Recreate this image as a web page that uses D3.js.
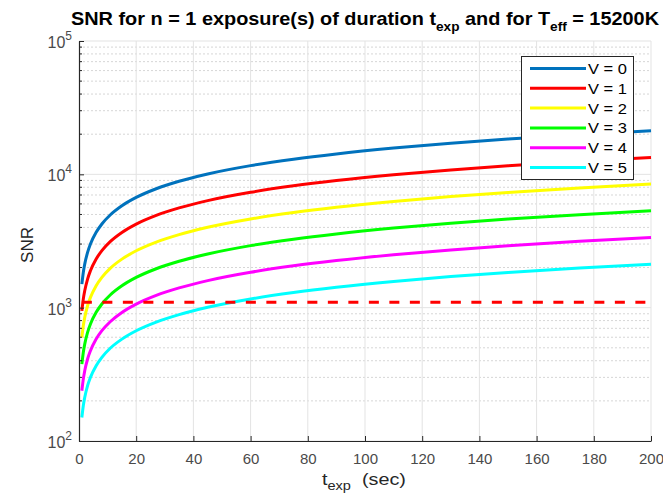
<!DOCTYPE html>
<html>
<head>
<meta charset="utf-8">
<script src="https://cdn.jsdelivr.net/npm/d3@7"></script>
<style>
  html, body { margin: 0; padding: 0; background: #fff; }
  svg { display: block; font-family: "Liberation Sans", Arial, Helvetica, sans-serif; }
</style>
</head>
<body>
<svg id="chart" width="663" height="496"></svg>
<script>
// ---- data ----
const tExp = [1, 1.5, 2, 3, 4, 6, 8, 11, 15, 20, 27, 35, 45, 60, 75, 90, 110, 130, 150, 175, 200];
const snrV0 = [1500, 1837, 2121, 2598, 3000, 3674, 4243, 4975, 5809, 6708, 7794, 8874, 10062, 11619, 12990, 14230, 15732, 17103, 18371, 19843, 21213];
const snrV1 = [946, 1159, 1338, 1639, 1893, 2318, 2677, 3139, 3665, 4232, 4918, 5599, 6349, 7331, 8196, 8978, 9926, 10791, 11591, 12520, 13384];
const snrV2 = [597, 731, 844, 1034, 1194, 1463, 1689, 1981, 2313, 2671, 3103, 3533, 4006, 4626, 5171, 5665, 6263, 6809, 7314, 7900, 8445];
const snrV3 = [377, 461, 533, 653, 754, 923, 1066, 1250, 1459, 1685, 1958, 2229, 2527, 2919, 3263, 3574, 3952, 4296, 4615, 4984, 5328];
const snrV4 = [238, 291, 336, 412, 475, 582, 672, 788, 921, 1063, 1235, 1406, 1595, 1842, 2059, 2255, 2493, 2711, 2912, 3145, 3362];
const snrV5 = [150, 184, 212, 260, 300, 367, 424, 498, 581, 671, 779, 887, 1006, 1162, 1299, 1423, 1573, 1710, 1837, 1984, 2121];
const seriesNames = ["V = 0", "V = 1", "V = 2", "V = 3", "V = 4", "V = 5"];
const seriesColors = ["#0072BD", "#FF0000", "#FFFF00", "#00FF00", "#FF00FF", "#00FFFF"];
const thresholdSNR = 1100;
const thresholdT = [1, 200];
const xTicks = [0, 20, 40, 60, 80, 100, 120, 140, 160, 180, 200];
const yMajor = [100, 1000, 10000, 100000];
const yExp = [2, 3, 4, 5];

const seriesValues = [snrV0, snrV1, snrV2, snrV3, snrV4, snrV5];

// ---- layout ----
const L = 79, R = 651, T = 41, B = 441;
const svg = d3.select("#chart");
const x = d3.scaleLinear().domain([0, 200]).range([L, R]);
const y = d3.scaleLog().domain([100, 100000]).range([B, T]);

// stretch a text element horizontally to a target width (anchored at its x)
function fitWidth(sel, target) {
  const w = sel.node().getBBox().width;
  if (w > 0) {
    const k = target / w;
    const x0 = +sel.attr("x");
    sel.attr("transform", `translate(${x0},0) scale(${k},1) translate(${-x0},0)`);
  }
}

// minor grid (y)
const yMinor = [];
for (let d = 100; d < 100000; d *= 10) for (let k = 2; k <= 9; k++) yMinor.push(d * k);

const grid = svg.append("g");
grid.selectAll("line.minor").data(yMinor).enter().append("line")
  .attr("x1", L).attr("x2", R)
  .attr("y1", d => y(d)).attr("y2", d => y(d))
  .attr("stroke", "#d6d6d6").attr("stroke-width", 1)
  .attr("stroke-dasharray", "2,2");
grid.selectAll("line.ymaj").data(yMajor).enter().append("line")
  .attr("x1", L).attr("x2", R)
  .attr("y1", d => y(d)).attr("y2", d => y(d))
  .attr("stroke", "#e3e3e3").attr("stroke-width", 1);
grid.selectAll("line.xmaj").data(xTicks.slice(1)).enter().append("line")
  .attr("x1", d => x(d)).attr("x2", d => x(d))
  .attr("y1", T).attr("y2", B)
  .attr("stroke", "#e3e3e3").attr("stroke-width", 1);

// curves
const line = d3.line().x(d => x(d[0])).y(d => y(d[1])).curve(d3.curveMonotoneX);
const plot = svg.append("g");
seriesValues.forEach((vals, i) => {
  plot.append("path")
    .datum(tExp.map((t, j) => [t, vals[j]]))
    .attr("fill", "none")
    .attr("stroke", seriesColors[i])
    .attr("stroke-width", 3)
    .attr("d", line);
});
// threshold dashed line
plot.append("path")
  .datum(thresholdT.map(t => [t, thresholdSNR]))
  .attr("fill", "none")
  .attr("stroke", "#FF0000")
  .attr("stroke-width", 3)
  .attr("stroke-dasharray", "10,10.5")
  .attr("d", d3.line().x(d => x(d[0])).y(d => y(d[1])));

// axes
const axisColor = "#262626";
const xAxis = d3.axisBottom(x).tickValues(xTicks).tickSizeInner(-5).tickSizeOuter(0).tickPadding(12);
const gx = svg.append("g").attr("transform", `translate(0,${B})`).call(xAxis);
gx.select(".domain").attr("stroke", axisColor).attr("stroke-width", 1.2);
gx.selectAll(".tick line").attr("stroke", axisColor);
gx.selectAll(".tick text").attr("fill", "#4a4a4a").attr("font-size", 15)
  .attr("font-family", "Liberation Sans, Arial, sans-serif");

const yAxis = d3.axisLeft(y).tickValues(yMajor).tickSizeInner(-5).tickSizeOuter(0).tickFormat("");
const gy = svg.append("g").attr("transform", `translate(${L},0)`).call(yAxis);
gy.select(".domain").attr("stroke", axisColor).attr("stroke-width", 1.2);
gy.selectAll(".tick line").attr("stroke", axisColor);
gy.selectAll("line.mtick").data(yMinor).enter().append("line")
  .attr("class", "mtick")
  .attr("x1", 0).attr("x2", 3)
  .attr("y1", d => y(d)).attr("y2", d => y(d))
  .attr("stroke", axisColor);
// y tick labels 10^n
yMajor.forEach((v, i) => {
  const t = svg.append("text")
    .attr("x", L - 7).attr("y", y(v) + 7)
    .attr("text-anchor", "end")
    .attr("fill", "#4a4a4a").attr("font-size", 16);
  t.append("tspan").text("10");
  t.append("tspan").attr("dy", -8).attr("font-size", 12).text(yExp[i]);
});

// title
const title = svg.append("text")
  .attr("x", 71).attr("y", 25)
  .attr("text-anchor", "start")
  .attr("font-weight", "bold").attr("font-size", 17.5).attr("fill", "#000");
title.append("tspan").text("SNR for n = 1 exposure(s) of duration t");
title.append("tspan").attr("dy", 6).attr("font-size", 12).text("exp");
title.append("tspan").attr("dy", -6).text(" and for T");
title.append("tspan").attr("dy", 6).attr("font-size", 12).text("eff");
title.append("tspan").attr("dy", -6).text(" = 15200K");
fitWidth(title, 589);

// y label
svg.append("text")
  .attr("transform", `translate(33,245) rotate(-90)`)
  .attr("text-anchor", "middle")
  .attr("fill", "#262626").attr("font-size", 17).text("SNR");

// x label
const xl = svg.append("text")
  .attr("x", 322).attr("y", 485)
  .attr("text-anchor", "start")
  .attr("fill", "#262626").attr("font-size", 17);
xl.append("tspan").text("t");
xl.append("tspan").attr("dy", 5.5).attr("font-size", 12.5).text("exp");
xl.append("tspan").attr("dy", -5.5).text("\u00a0\u00a0(sec)");
fitWidth(xl, 84);

// legend
const lg = svg.append("g");
lg.append("rect").attr("x", 521.5).attr("y", 56.5).attr("width", 112).attr("height", 123)
  .attr("fill", "#fff").attr("stroke", "#262626").attr("stroke-width", 1);
seriesNames.forEach((name, i) => {
  const yy = 68.5 + i * 19.8;
  lg.append("line").attr("x1", 530).attr("x2", 586).attr("y1", yy).attr("y2", yy)
    .attr("stroke", seriesColors[i]).attr("stroke-width", 3);
  const tx = lg.append("text").attr("x", 588).attr("y", yy + 5.5)
    .attr("fill", "#000").attr("font-size", 15).text(name);
  fitWidth(tx, 39);
});
</script>
</body>
</html>
